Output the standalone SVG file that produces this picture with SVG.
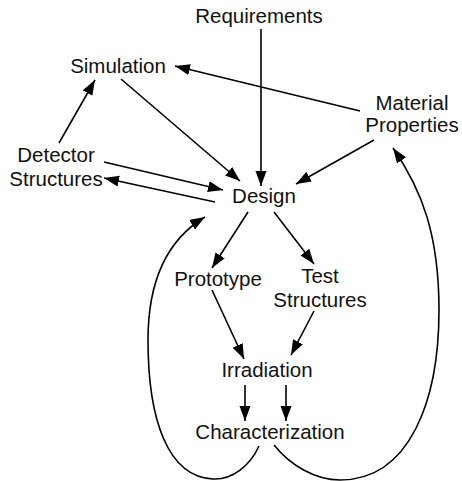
<svg xmlns="http://www.w3.org/2000/svg" width="462" height="481" viewBox="0 0 462 481">
<style>
text{font-family:"Liberation Sans",Arial,sans-serif;font-size:20.5px;fill:#111;text-anchor:middle}
.c{fill:none;stroke:#000;stroke-width:1.6}
</style>
<defs>
<marker id="ah" markerUnits="userSpaceOnUse" markerWidth="16" markerHeight="12" refX="15" refY="5.5" orient="auto">
<path d="M0,0 L15,5.5 L0,11 z" fill="#000"/>
</marker>
</defs>
<rect width="462" height="481" fill="#fff"/>
<g id="connectors">
<line class="c" x1="261" y1="29" x2="261" y2="186" marker-end="url(#ah)"/>
<line class="c" x1="121" y1="79" x2="240" y2="181" marker-end="url(#ah)"/>
<line class="c" x1="360" y1="111" x2="175" y2="66" marker-end="url(#ah)"/>
<line class="c" x1="374" y1="140" x2="296" y2="184" marker-end="url(#ah)"/>
<line class="c" x1="59" y1="143" x2="95" y2="80" marker-end="url(#ah)"/>
<line class="c" x1="104" y1="162" x2="223" y2="190" marker-end="url(#ah)"/>
<line class="c" x1="215" y1="202" x2="104" y2="178" marker-end="url(#ah)"/>
<line class="c" x1="248" y1="212" x2="212" y2="268" marker-end="url(#ah)"/>
<line class="c" x1="274" y1="212" x2="314" y2="264" marker-end="url(#ah)"/>
<line class="c" x1="212" y1="290" x2="244" y2="359" marker-end="url(#ah)"/>
<line class="c" x1="314" y1="311" x2="291" y2="355" marker-end="url(#ah)"/>
<line class="c" x1="245" y1="385" x2="245" y2="421" marker-end="url(#ah)"/>
<line class="c" x1="286" y1="385" x2="286" y2="421" marker-end="url(#ah)"/>
<path class="c" d="M259,446 C250,466 232,480 213,479 C168,477 148,420 148,340 C148,275 170,238 205,217" marker-end="url(#ah)"/>
<path class="c" d="M274,445 C290,465 315,480 340,480 C410,480 439,400 439,310 C439,235 422,190 393,148" marker-end="url(#ah)"/>
</g>
<g id="requirements"><text x="259" y="23">Requirements</text></g>
<g id="simulation"><text x="118" y="73">Simulation</text></g>
<g id="material-properties"><text x="412" y="110">Material</text><text x="412" y="132">Properties</text></g>
<g id="detector-structures"><text x="56" y="162">Detector</text><text x="56" y="186">Structures</text></g>
<g id="design"><text x="264" y="203">Design</text></g>
<g id="prototype"><text x="218" y="286">Prototype</text></g>
<g id="test-structures"><text x="320" y="283">Test</text><text x="320" y="307">Structures</text></g>
<g id="irradiation"><text x="267" y="377">Irradiation</text></g>
<g id="characterization"><text x="270" y="439">Characterization</text></g>
</svg>
